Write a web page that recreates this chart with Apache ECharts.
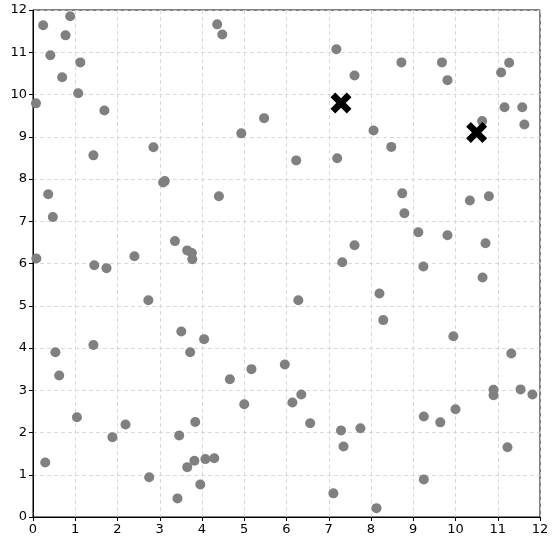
<!DOCTYPE html>
<html>
<head>
<meta charset="utf-8">
<script src="https://cdn.jsdelivr.net/npm/echarts@6/dist/echarts.min.js"></script>
<style>html,body{margin:0;padding:0;background:#fff}#c{width:557px;height:552px}</style>
</head>
<body>
<div id="c"></div>
<script>
// point data: x values and y values
const pointsX = [0.24,0.88,0.77,0.41,1.12,0.69,1.07,0.07,1.69,1.43,2.85,4.36,4.48,4.93,5.47,
  7.18,7.61,8.72,9.68,9.81,11.27,11.08,11.16,11.58,11.63,10.63,8.06,8.48,6.23,7.20,
  3.08,3.12,0.36,0.47,4.40,0.08,1.45,1.74,2.40,3.36,3.65,3.76,3.77,2.73,3.51,4.05,1.43,
  8.74,8.79,10.34,10.79,9.12,9.81,10.71,7.61,7.32,9.24,10.64,8.20,6.28,8.29,9.95,
  0.53,0.62,3.72,4.66,5.17,5.00,1.04,2.19,1.88,3.46,3.84,0.29,3.65,3.82,4.08,4.29,2.75,3.96,3.42,
  5.96,6.35,6.14,6.56,7.29,7.75,7.35,7.11,8.13,9.25,9.64,10.00,9.25,11.32,10.90,10.90,11.54,11.82,11.23];
const pointsY = [11.64,11.85,11.40,10.93,10.76,10.41,10.03,9.79,9.62,8.56,8.75,11.66,11.42,9.08,9.44,
  11.07,10.45,10.76,10.76,10.34,10.75,10.52,9.70,9.70,9.29,9.37,9.15,8.76,8.44,8.49,
  7.92,7.95,7.64,7.10,7.59,6.12,5.96,5.89,6.17,6.53,6.31,6.25,6.10,5.13,4.39,4.21,4.07,
  7.66,7.19,7.49,7.59,6.74,6.67,6.48,6.43,6.03,5.93,5.67,5.29,5.13,4.66,4.28,
  3.90,3.35,3.90,3.26,3.50,2.67,2.36,2.19,1.89,1.93,2.25,1.29,1.18,1.33,1.37,1.39,0.94,0.77,0.44,
  3.61,2.90,2.71,2.22,2.05,2.10,1.67,0.56,0.21,2.38,2.24,2.55,0.89,3.87,3.01,2.88,3.02,2.90,1.65];
// centroid markers
const centersX = [7.29, 10.50];
const centersY = [9.80, 9.10];
const tickLabels = [0,1,2,3,4,5,6,7,8,9,10,11,12];

const pts = pointsX.map((x,i)=>[x, pointsY[i]]);
const cts = centersX.map((x,i)=>[x, centersY[i]]);

const axisCommon = {
  min: 0, max: 12, interval: 1,
  axisLine: {show: true, lineStyle: {color: '#000', width: 1}},
  axisTick: {show: true, length: 4, lineStyle: {color: '#000'}},
  axisLabel: {color: '#000', fontSize: 13, fontFamily: 'DejaVu Sans', margin: 6,
    formatter: v => tickLabels.includes(v) ? String(v) : ''},
  splitLine: {show: true, lineStyle: {color: '#d0d0d0', type: [4, 3], width: 0.8}}
};

const chart = echarts.init(document.getElementById('c'), null, {renderer: 'canvas'});
chart.setOption({
  animation: false,
  backgroundColor: '#fff',
  grid: {left: 33, right: 17, top: 10, bottom: 35, show: true, borderColor: '#000', borderWidth: 1, backgroundColor: 'transparent'},
  xAxis: Object.assign({type: 'value'}, axisCommon),
  yAxis: Object.assign({type: 'value'}, axisCommon),
  series: [
    {type: 'scatter', data: pts, symbol: 'circle', symbolSize: 10,
     itemStyle: {color: '#808080', opacity: 1}},
    {type: 'scatter', data: cts,
     symbol: 'path://M0,4.5 L4.5,0 L10,5.5 L15.5,0 L20,4.5 L14.5,10 L20,15.5 L15.5,20 L10,14.5 L4.5,20 L0,15.5 L5.5,10 Z',
     symbolSize: 21, itemStyle: {color: '#000', opacity: 1}, z: 5}
  ]
});
</script>
</body>
</html>
